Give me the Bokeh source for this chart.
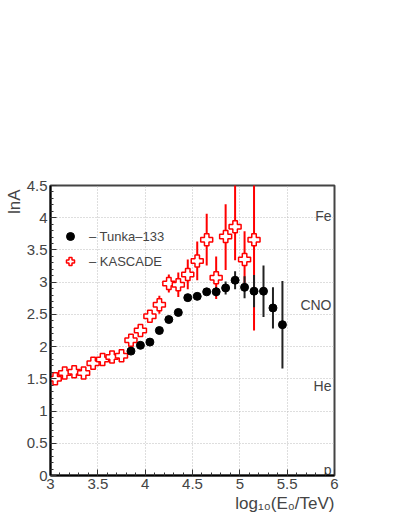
import numpy as np
from bokeh.plotting import figure
from bokeh.models import (ColumnDataSource, FixedTicker, CustomJSTickFormatter,
                          Legend, LegendItem, Title)
from bokeh.core.properties import value
from bokeh.embed import file_html
from bokeh.resources import INLINE

# ---------------- data ----------------
kas_x = [3.05, 3.15, 3.25, 3.35, 3.45, 3.55, 3.65, 3.75, 3.85, 3.95, 4.05,
         4.15, 4.25, 4.35, 4.45, 4.55, 4.65, 4.75, 4.85, 4.95, 5.05, 5.15]
kas_y = [1.50, 1.59, 1.61, 1.59, 1.74, 1.80, 1.84, 1.86, 2.10, 2.25, 2.47,
         2.65, 2.98, 2.96, 3.12, 3.33, 3.66, 3.07, 3.71, 3.86, 3.35, 3.66]
kas_err_lo = [0.03, 0.03, 0.03, 0.03, 0.03, 0.03, 0.03, 0.03, 0.05, 0.07, 0.10,
              0.14, 0.14, 0.19, 0.23, 0.30, 0.40, 0.33, 0.52, 0.52, 0.44, 1.41]
kas_err_hi = [0.03, 0.03, 0.03, 0.03, 0.03, 0.03, 0.03, 0.03, 0.05, 0.07, 0.10,
              0.14, 0.14, 0.19, 0.23, 0.30, 0.40, 0.33, 0.50, 0.70, 0.44, 1.41]

tun_x = [3.85, 3.95, 4.05, 4.15, 4.25, 4.35, 4.45, 4.55, 4.65, 4.75, 4.85,
         4.95, 5.05, 5.15, 5.25, 5.35, 5.45]
tun_y = [1.93, 2.02, 2.07, 2.25, 2.42, 2.53, 2.76, 2.78, 2.85, 2.85, 2.91,
         3.03, 2.92, 2.86, 2.86, 2.60, 2.34]
tun_err = [0.02, 0.02, 0.02, 0.02, 0.03, 0.03, 0.03, 0.04, 0.05, 0.07, 0.10,
           0.14, 0.17, 0.25, 0.40, 0.32, 0.68]

comp_names = ["p", "He", "CNO", "Fe"]
comp_lnA = [0.0, 1.386, 2.639, 4.025]

x_ticks = [3, 3.5, 4, 4.5, 5, 5.5, 6]
y_ticks = [0, 0.5, 1, 1.5, 2, 2.5, 3, 3.5, 4, 4.5]

# ---------------- figure ----------------
FONT = "Liberation Sans"
GRAY = "#444444"

p = figure(width=394, height=512, x_range=(3, 6), y_range=(0, 4.5),
           output_backend="svg", toolbar_location=None,
           min_border_left=50, min_border_right=60,
           min_border_top=185, min_border_bottom=37)
p.background_fill_color = "white"
p.border_fill_color = "white"
p.outline_line_color = "#444444"
p.outline_line_width = 2

fmt = CustomJSTickFormatter(code="return tick.toFixed(1).replace(/\\.0$/, '')")
xt = FixedTicker(ticks=x_ticks, minor_ticks=list(np.round(np.arange(3, 6.001, 0.1), 2)))
yt = FixedTicker(ticks=y_ticks, minor_ticks=list(np.round(np.arange(0, 4.501, 0.1), 2)))
p.xaxis.ticker = xt
p.yaxis.ticker = yt
p.xgrid.ticker = xt
p.ygrid.ticker = yt
for ax in (p.xaxis[0], p.yaxis[0]):
    ax.formatter = fmt
    ax.axis_line_color = "black"
    ax.axis_line_width = 2
    ax.major_tick_in = 6
    ax.major_tick_out = 0
    ax.minor_tick_in = 3
    ax.minor_tick_out = 0
    ax.major_tick_line_color = "#333333"
    ax.minor_tick_line_color = "#333333"
    ax.major_label_text_font = FONT
    ax.major_label_text_font_size = "15px"
    ax.major_label_text_color = GRAY
    ax.major_label_standoff = 3

# axis titles, right/top aligned as in the reference
xlab = Title(text="log\u2081\u2080(E\u2080/TeV)", align="right", offset=0,
             standoff=0, text_font=FONT, text_font_size="17px",
             text_font_style="normal", text_color=GRAY)
p.add_layout(xlab, "below")
ylab = Title(text="lnA", align="right", offset=4,
             standoff=0, text_font=FONT, text_font_size="17px",
             text_font_style="normal", text_color=GRAY)
p.add_layout(ylab, "left")

for g in (p.xgrid[0], p.ygrid[0]):
    g.grid_line_color = "#bdbdbd"
    g.grid_line_dash = "1 2"
    g.grid_line_width = 1

# ---------------- data sources ----------------
kas = ColumnDataSource(dict(
    x=kas_x, y=kas_y,
    lo=[y - e for y, e in zip(kas_y, kas_err_lo)],
    hi=[y + e for y, e in zip(kas_y, kas_err_hi)]))
tun = ColumnDataSource(dict(
    x=tun_x, y=tun_y,
    lo=[y - e for y, e in zip(tun_y, tun_err)],
    hi=[y + e for y, e in zip(tun_y, tun_err)]))

p.segment(x0="x", y0="lo", x1="x", y1="hi", source=kas,
          line_color="red", line_width=2)
kas_r = p.scatter(x="x", y="y", source=kas, marker="plus", size=12,
                  fill_color="white", line_color="red", line_width=1.5)
p.segment(x0="x", y0="lo", x1="x", y1="hi", source=tun,
          line_color="#222222", line_width=2)
tun_r = p.scatter(x="x", y="y", source=tun, marker="circle", size=8,
                  fill_color="black", line_color="black")

# composition labels
comp = ColumnDataSource(dict(
    x=[6] * len(comp_names), y=comp_lnA, t=comp_names,
    yo=[-6 if v == 0 else 0 for v in comp_lnA]))
p.text(x="x", y="y", text="t", source=comp, text_align="right",
       text_baseline="alphabetic", x_offset=-3, y_offset="yo",
       text_font=value(FONT), text_font_size="14px", text_color=GRAY)

legend = Legend(items=[LegendItem(label="\u2013 Tunka\u2013133", renderers=[tun_r]),
                       LegendItem(label="\u2013 KASCADE", renderers=[kas_r])],
                location=(10, 204), padding=0, margin=0, spacing=5,
                glyph_width=20, glyph_height=20, label_height=20,
                label_standoff=9, label_text_font=FONT,
                label_text_font_size="13px", label_text_color=GRAY,
                border_line_alpha=0, background_fill_alpha=0)
p.add_layout(legend)

open("out.html", "w").write(file_html(p, INLINE))
